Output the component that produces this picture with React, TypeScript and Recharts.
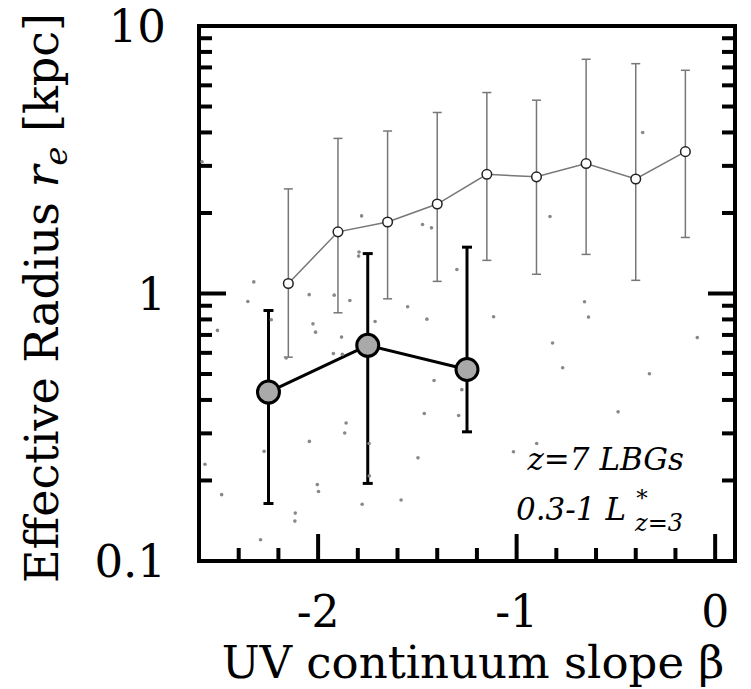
import React from 'react';
import {
    ComposedChart, Line, Scatter, XAxis, YAxis, ErrorBar, Customized
} from 'recharts';

const FONT = '"DejaVu Serif", "Liberation Serif", serif';

// --- binned mean sizes, all LBGs (open circles) ---
const binBeta = [-2.15, -1.9, -1.65, -1.4, -1.15, -0.9, -0.65, -0.4, -0.15];
const binRe = [1.09, 1.70, 1.85, 2.16, 2.79, 2.73, 3.06, 2.68, 3.39];
const binLo = [0.578, 0.847, 0.955, 1.11, 1.33, 1.18, 1.40, 1.12, 1.62];
const binHi = [2.46, 3.80, 4.05, 4.75, 5.64, 5.28, 7.51, 7.23, 6.83];

// --- z=7 LBGs, 0.3-1 L* (big grey circles) ---
const z7Beta = [-2.25, -1.75, -1.25];
const z7Re = [0.428, 0.64, 0.52];
const z7Lo = [0.164, 0.195, 0.304];
const z7Hi = [0.864, 1.41, 1.49];

// --- individual galaxies (small dots) ---
const dotBeta = [
    -0.365, -2.585, -1.781, -1.474, -1.429, -0.832, -1.794, -1.796, -1.301, -2.324,
    -2.354, -2.045, -1.919, -1.840, -1.549, -0.658, -0.638, -1.116, -1.452, -1.713,
    -2.236, -2.507, -2.026, -2.013, -1.882, -0.090, -0.819, -1.923, -1.878, -2.161,
    -0.768, -0.331, -1.416, -1.276, -1.465, -1.292, -0.489, -1.859, -1.866, -2.044,
    -1.743, -0.899, -2.272, -1.016, -2.570, -1.497, -2.486, -2.004, -1.998, -1.742,
    -1.778, -1.582, -2.115, -2.117, -2.290,
];
const dotRe = [
    4.0, 3.11, 1.95, 1.81, 1.76, 1.94, 1.43, 1.38, 1.23, 1.105,
    0.934, 0.99, 0.986, 0.942, 0.892, 0.931, 0.816, 0.819, 0.802, 0.786,
    0.798, 0.728, 0.77, 0.717, 0.687, 0.684, 0.653, 0.596, 0.592, 0.574,
    0.528, 0.501, 0.473, 0.437, 0.356, 0.350, 0.361, 0.328, 0.301, 0.280,
    0.275, 0.275, 0.257, 0.256, 0.230, 0.243, 0.177, 0.193, 0.182, 0.208,
    0.163, 0.169, 0.151, 0.141, 0.120,
];

// --- axes ---
const xDomain = [-2.6, 0.1];
const xMajor = [-2, -1, 0];
const xTicks = [-2.4, -2.2, -2, -1.8, -1.6, -1.4, -1.2, -1, -0.8, -0.6, -0.4, -0.2, 0];
const yDomain = [0.1, 10];
const yMajor = [0.1, 1, 10];
const yMajorLabels = ['0.1', '1', '10'];
const yTicks = [0.1, 0.2, 0.3, 0.4, 0.5, 0.6, 0.7, 0.8, 0.9, 1, 2, 3, 4, 5, 6, 7, 8, 9, 10];

const binData = binBeta.map((b, i) => ({
    beta: b, re: binRe[i], err: [binRe[i] - binLo[i], binHi[i] - binRe[i]],
}));
const z7Data = z7Beta.map((b, i) => ({
    beta: b, re: z7Re[i], err: [z7Re[i] - z7Lo[i], z7Hi[i] - z7Re[i]],
}));
const dotData = dotBeta.map((b, i) => ({ beta: b, re: dotRe[i] }));

const frame = { stroke: '#000', strokeWidth: 4, strokeLinecap: 'square' as const };
const MAJOR_LEN = 27;
const MINOR_LEN = 13;

const BottomTick = ({ x, y, payload }: any) => {
    const major = xMajor.includes(payload.value);
    return (
        <g>
            <line x1={x} x2={x} y1={y} y2={y - (major ? MAJOR_LEN : MINOR_LEN)} stroke="#000" strokeWidth={4} />
            {major && (
                <text x={x} y={y + 66} textAnchor="middle" fontSize={44} fontFamily={FONT} fill="#000">
                    {payload.value}
                </text>
            )}
        </g>
    );
};

const TopTick = ({ x, y, payload }: any) => {
    const major = xMajor.includes(payload.value);
    return <line x1={x} x2={x} y1={y} y2={y + (major ? MAJOR_LEN : MINOR_LEN)} stroke="#000" strokeWidth={4} />;
};

const LeftTick = ({ x, y, payload }: any) => {
    const idx = yMajor.indexOf(payload.value);
    return (
        <g>
            <line x1={x} x2={x + (idx >= 0 ? MAJOR_LEN : MINOR_LEN)} y1={y} y2={y} stroke="#000" strokeWidth={4} />
            {idx >= 0 && (
                <text x={x - 33} y={y + 16} textAnchor="end" fontSize={45} fontFamily={FONT} fill="#000">
                    {yMajorLabels[idx]}
                </text>
            )}
        </g>
    );
};

const RightTick = ({ x, y, payload }: any) => {
    const major = yMajor.includes(payload.value);
    return <line x1={x} x2={x - (major ? MAJOR_LEN : MINOR_LEN)} y1={y} y2={y} stroke="#000" strokeWidth={4} />;
};

const XTitle = ({ viewBox }: any) => (
    <text x={viewBox.x + viewBox.width / 2 + 6} y={viewBox.y + 117} textAnchor="middle"
        fontSize={45} fontFamily={FONT} fill="#000">
        UV continuum slope β
    </text>
);

const YTitle = ({ viewBox }: any) => {
    const cx = viewBox.x - 140;
    const cy = viewBox.y + 272;
    return (
        <text x={cx} y={cy} transform={`rotate(-90, ${cx}, ${cy})`} textAnchor="middle"
            fontSize={46} fontFamily={FONT} fill="#000">
            Effective Radius{' '}
            <tspan fontStyle="italic">r</tspan>
            <tspan fontStyle="italic" fontSize={32} dy={9}>e</tspan>
            <tspan dy={-9}>{' '}[kpc]</tspan>
        </text>
    );
};

const Annotation = () => (
    <g fontFamily={FONT} fontStyle="italic" fill="#000">
        <text x={684} y={470} textAnchor="end" fontSize={31}>z=7 LBGs</text>
        <text x={626} y={520} textAnchor="end" fontSize={31}>0.3-1 L</text>
        <text x={642} y={506} textAnchor="middle" fontSize={23}>*</text>
        <text x={635} y={531} textAnchor="start" fontSize={24}>z=3</text>
    </g>
);

const SmallDot = ({ cx, cy }: any) => <circle cx={cx} cy={cy} r={1.8} fill="#888" />;

export default function App() {
    return (
        <div style={{ position: 'absolute', left: 0, top: 0, width: 751, height: 689, background: '#fff' }}>
            <ComposedChart width={751} height={689} margin={{ top: 25, right: 15, bottom: 127, left: 198 }}>
                <XAxis xAxisId="b" orientation="bottom" type="number" dataKey="beta" domain={xDomain}
                    allowDataOverflow ticks={xTicks} interval={0} height={1} tickSize={0} tickMargin={0}
                    tickLine={false} axisLine={frame} tick={BottomTick} label={XTitle} />
                <XAxis xAxisId="t" orientation="top" type="number" domain={xDomain}
                    allowDataOverflow ticks={xTicks} interval={0} height={1} tickSize={0} tickMargin={0}
                    tickLine={false} axisLine={frame} tick={TopTick} />
                <YAxis yAxisId="l" orientation="left" type="number" scale="log" domain={yDomain}
                    allowDataOverflow ticks={yTicks} interval={0} width={1} tickSize={0} tickMargin={0}
                    tickLine={false} axisLine={frame} tick={LeftTick} label={YTitle} />
                <YAxis yAxisId="r" orientation="right" type="number" scale="log" domain={yDomain}
                    allowDataOverflow ticks={yTicks} interval={0} width={1} tickSize={0} tickMargin={0}
                    tickLine={false} axisLine={frame} tick={RightTick} />

                <Scatter xAxisId="b" yAxisId="l" data={dotData} dataKey="re" shape={SmallDot}
                    isAnimationActive={false} />

                <Line xAxisId="b" yAxisId="l" data={binData} dataKey="re" stroke="#777" strokeWidth={1.5}
                    dot={{ r: 4.8, fill: '#fff', stroke: '#222', strokeWidth: 1.5 }} activeDot={false}
                    isAnimationActive={false}>
                    <ErrorBar dataKey="err" width={4.5} stroke="#777" strokeWidth={1.5} direction="y" />
                </Line>

                <Line xAxisId="b" yAxisId="l" data={z7Data} dataKey="re" stroke="#000" strokeWidth={3}
                    dot={{ r: 11, fill: '#a9a9a9', stroke: '#000', strokeWidth: 3 }} activeDot={false}
                    isAnimationActive={false}>
                    <ErrorBar dataKey="err" width={5} stroke="#000" strokeWidth={3} direction="y" />
                </Line>

                <Customized component={Annotation} />
            </ComposedChart>
        </div>
    );
}
